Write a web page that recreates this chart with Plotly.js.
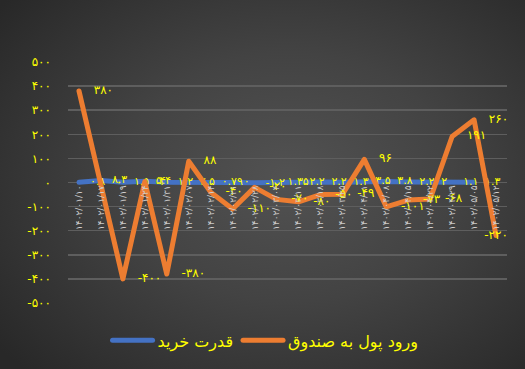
<!DOCTYPE html>
<html><head><meta charset="utf-8">
<script src="https://cdn.plot.ly/plotly-3.0.1.min.js"></script>
<style>
html,body{margin:0;padding:0;background:#2a2a2a;}
#chart{width:525px;height:369px;background:radial-gradient(ellipse 70% 75% at 55% 48%, #525252 0%, #434343 45%, #282828 100%);}
.js-line{stroke-linejoin:round !important;stroke-linecap:round !important;}
.legendlines path{stroke-linecap:round !important;}
</style></head><body><div id="chart"></div><script>
const categories = [
  "1402/01/10","1402/01/17","1402/01/19","1402/01/24","1402/01/31",
  "1402/02/07","1402/02/14","1402/02/21","1402/02/28","1402/03/04",
  "1402/03/11","1402/03/18","1402/03/25","1402/04/01","1402/04/08",
  "1402/04/15","1402/04/22","1402/04/29","1402/05/05","1402/05/12"
];
const purchasingPower = [0.8, 8.3, 1.5, 5.4, 1.2, 2.5, 0.79, 0, -1.2, 1.35, 2.2, 2.2, 1.3, 3.5, 3.8, 2.2, 2, 1.1, 1.3, null];
const fundInflow = [380, 0, -400, 4, -380, 88, -40, -110, -20, -70, -80, -50, -49, 96, -101, -73, -68, 191, 260, -220];
const yTickValues = [-500, -400, -300, -200, -100, 0, 100, 200, 300, 400, 500];
const seriesNames = ["قدرت خرید", "ورود پول به صندوق"];

const faDigits = "۰۱۲۳۴۵۶۷۸۹";
function toFa(v) { return String(v).replace(/[0-9]/g, d => faDigits[+d]); }

const xIdx = categories.map((c, i) => i);
const font = "DejaVu Sans, sans-serif";
const lastI = fundInflow.length - 1;

const traces = [
  {
    x: xIdx, y: purchasingPower, name: seriesNames[0], type: "scatter",
    mode: "lines+markers+text",
    line: {color: "#4472C4", width: 5},
    marker: {size: 16, color: "rgba(0,0,0,0)"},
    text: purchasingPower.map(v => v === null ? "" : toFa(v)),
    textposition: "middle right",
    textfont: {color: "#FFFF00", size: 11, family: font},
    cliponaxis: false, hoverinfo: "skip"
  },
  {
    x: xIdx, y: fundInflow, name: seriesNames[1], type: "scatter",
    mode: "lines+markers+text",
    line: {color: "#ED7D31", width: 5},
    marker: {size: 22, color: "rgba(0,0,0,0)"},
    text: fundInflow.map(v => toFa(v)),
    textposition: fundInflow.map((v, i) => i === lastI ? "middle center" : "middle right"),
    textfont: {color: "#FFFF00", size: 12, family: font},
    cliponaxis: false, hoverinfo: "skip"
  }
];

const layout = {
  width: 525, height: 369,
  margin: {l: 68, r: 18, t: 62, b: 63},
  paper_bgcolor: "rgba(0,0,0,0)", plot_bgcolor: "rgba(0,0,0,0)",
  font: {family: font, color: "#FFFF00"},
  showlegend: true,
  legend: {orientation: "h", x: 0.45, xanchor: "center", y: -0.155, yanchor: "middle",
           font: {color: "#FFFF00", size: 16, family: font}, bgcolor: "rgba(0,0,0,0)",
           itemwidth: 40},
  xaxis: {
    range: [-0.5, categories.length - 0.5],
    tickvals: xIdx, ticktext: categories.map(toFa),
    tickangle: -90, anchor: "free", position: 0.5,
    showgrid: false, zeroline: false, showline: false, ticks: "",
    tickfont: {color: "#cfcfcf", size: 9, family: font}, automargin: false
  },
  yaxis: {
    range: [-500, 500], domain: [0, 1],
    tickvals: yTickValues, ticktext: yTickValues.map(v => v < 0 ? "-" + toFa(-v) : toFa(v)),
    showgrid: true, gridcolor: "#5e5e5e", gridwidth: 1.5,
    zeroline: false, showline: false, ticks: "",
    ticklabelstandoff: 16,
    tickfont: {color: "#FFFF00", size: 12, family: font}, automargin: false
  }
};

Plotly.newPlot("chart", traces, layout, {displayModeBar: false, staticPlot: true});
</script></body></html>
